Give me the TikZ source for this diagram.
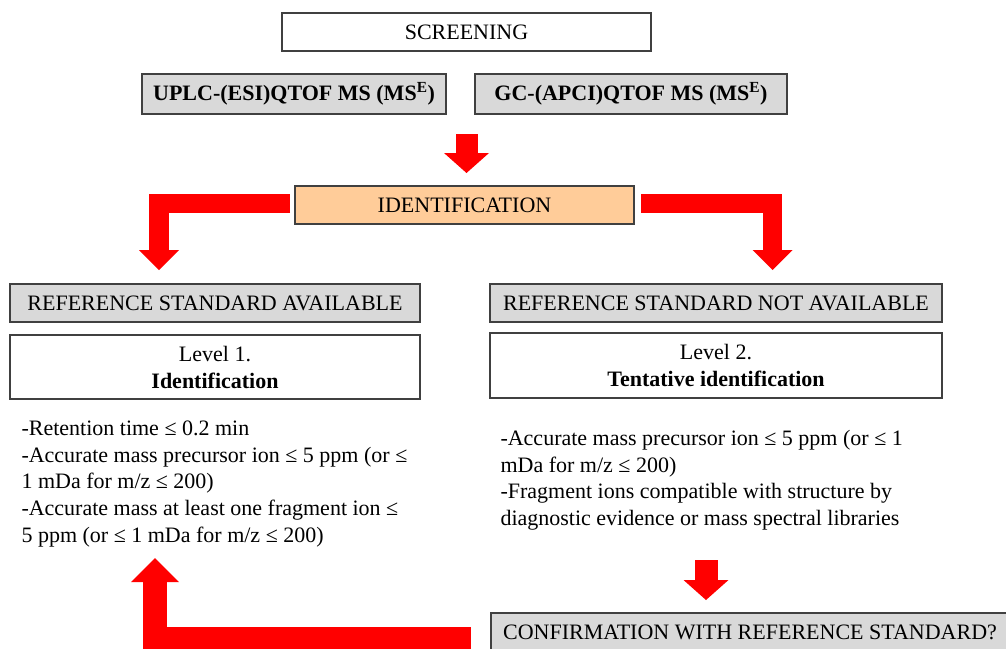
\documentclass[tikz,border=0pt]{standalone}
\usepackage{fontspec}
\setmainfont{Liberation Serif}
\usetikzlibrary{arrows.meta}

\definecolor{boxgray}{HTML}{D9D9D9}
\definecolor{peach}{HTML}{FFCC99}
\definecolor{edgegray}{HTML}{404040}
\definecolor{arrowred}{HTML}{FF0000}

\tikzset{
  box/.style={draw=edgegray, line width=1.3pt, fill=white, minimum height=38pt,
    inner sep=0pt, align=center, font=\fontsize{22}{27}\selectfont},
  graybox/.style={box, fill=boxgray},
  listtext/.style={inner sep=0pt, align=left, anchor=north west,
    font=\fontsize{22}{26.6}\selectfont},
  fatarrow/.style={draw=arrowred, line join=miter,
    -{Triangle[length=20pt, width=45pt, line width=0pt]}},
}

\begin{document}
\begin{tikzpicture}[x=1pt, y=-1pt, line width=1pt]

  \useasboundingbox (0,0) rectangle (1006,648);
  \clip (0,0) rectangle (1006,648);

  \node[box, minimum width=369pt] (screen) at (466.5,32) {SCREENING};
  \node[graybox, minimum width=304pt, minimum height=40pt] (uplc) at (294,94)
    {\textbf{UPLC-(ESI)QTOF MS (MS\textsuperscript{E})}};
  \node[graybox, minimum width=312pt, minimum height=40pt] (gc) at (631,94)
    {\textbf{GC-(APCI)QTOF MS (MS\textsuperscript{E})}};

  \node[box, fill=peach, minimum width=339pt] (ident) at (464.5,205) {IDENTIFICATION};

  \node[graybox, minimum width=410pt] (refav) at (215,303) {REFERENCE STANDARD AVAILABLE};
  \node[box, minimum width=410pt, minimum height=64pt] (lvlone) at (215,367)
    {Level 1.\\\textbf{Identification}};

  \node[graybox, minimum width=452pt] (refnot) at (716,303) {REFERENCE STANDARD NOT AVAILABLE};
  \node[box, minimum width=452pt, minimum height=65pt] (lvltwo) at (716,365.5)
    {Level 2.\\\textbf{Tentative identification}};

  \node[listtext] (critone) at (21,420.5)
    {-Retention time ≤ 0.2 min\\
     -Accurate mass precursor ion ≤ 5 ppm (or ≤\\
     1 mDa for m/z ≤ 200)\\
     -Accurate mass at least one fragment ion ≤\\
     5 ppm (or ≤ 1 mDa for m/z ≤ 200)};
  \node[listtext] (crittwo) at (500,430)
    {-Accurate mass precursor ion ≤ 5 ppm (or ≤ 1\\
     mDa for m/z ≤ 200)\\
     -Fragment ions compatible with structure by\\
     diagnostic evidence or mass spectral libraries};

  \node[graybox, minimum width=518pt] (confirm) at (750,632)
    {CONFIRMATION WITH REFERENCE STANDARD?};

  % arrow ends
  \coordinate (topa) at (466.5,134);
  \coordinate (topb) at (466.5,173);
  \coordinate (lefta) at (290,203.5);
  \coordinate (leftb) at (159,270);
  \coordinate (righta) at (641,203.5);
  \coordinate (rightb) at (772.5,270);
  \coordinate (confa) at (706,560);
  \coordinate (confb) at (706,600);
  \coordinate (backa) at (471,639);
  \coordinate (backb) at (155,558);

  \draw[fatarrow, line width=22pt] (topa) -- (topb);
  \draw[fatarrow, line width=19.5pt, -{Triangle[length=20pt, width=40pt, line width=0pt]}] (lefta) -| (leftb);
  \draw[fatarrow, line width=19.5pt, -{Triangle[length=20pt, width=40pt, line width=0pt]}] (righta) -| (rightb);
  \draw[fatarrow, line width=23pt] (confa) -- (confb);
  \draw[fatarrow, line width=24pt, -{Triangle[length=24pt, width=48pt, line width=0pt]}] (backa) -| (backb);

\end{tikzpicture}
\end{document}
